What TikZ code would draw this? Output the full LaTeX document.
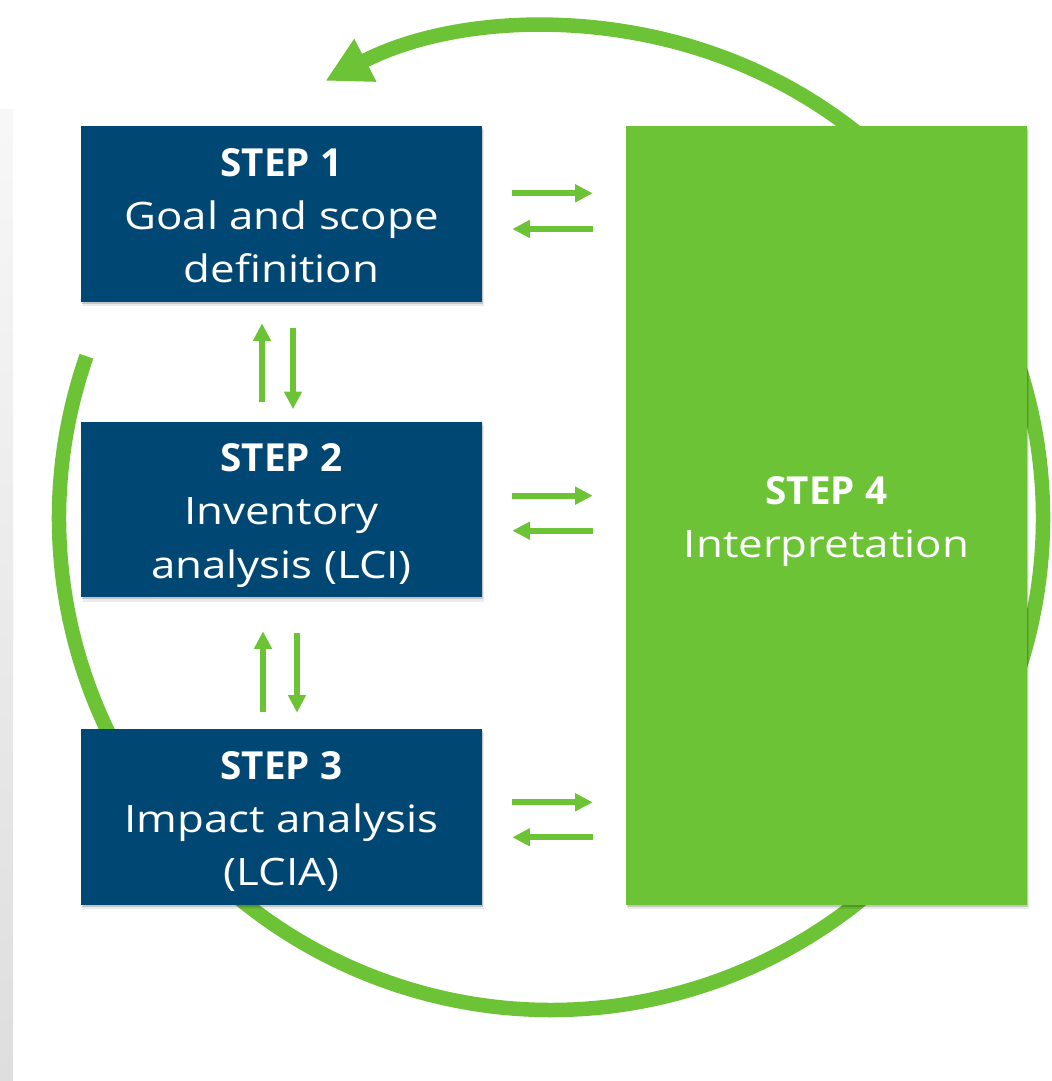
\documentclass[tikz,border=0pt]{standalone}
\usepackage{fontspec}
\setmainfont{Open Sans}
\newfontfamily\bodyfont{Open Sans}[FakeStretch=1.16]
\newfontfamily\headfont{Open Sans}
\usetikzlibrary{arrows.meta,calc,shadows}

\definecolor{lcanavy}{RGB}{0,72,115}
\definecolor{lcagreen}{RGB}{108,195,53}

% first line of a box: bold heading with a fixed strut above the baseline
\newcommand\stephead[1]{{\headfont\bfseries\fontsize{22}{30.3}\selectfont\rule{0pt}{23.8pt}#1}}
% fixed strut below the last baseline
\newcommand\lcatail{\rule[-6.2pt]{0pt}{6.2pt}}

\begin{document}
\begin{tikzpicture}[x=0.02cm,y=0.02cm,
  stagebox/.style={fill=#1, text=white, inner sep=0pt, align=center,
    minimum width=8.02cm, minimum height=3.52cm,
    font=\bodyfont\fontsize{21.5}{30.3}\selectfont,
    drop shadow={shadow xshift=0.4pt, shadow yshift=-1pt, opacity=.16, fill=black},
    drop shadow={shadow xshift=0.9pt, shadow yshift=-2.4pt, opacity=.08, fill=black}},
  ring/.style={draw=lcagreen, line width=0.29cm,
    -{Triangle[length=0.9cm,width=0.9cm]}},
  flow/.style={draw=lcagreen, line width=0.115cm,
    -{Triangle[length=0.35cm,width=0.34cm]}}]

\useasboundingbox (0,0) rectangle (1051,1081);

% soft grey strip along the left edge
\shade[top color=black!3, bottom color=black!13] (0,0) rectangle (13,971);

% the iterative cycle behind the boxes
\coordinate (hub) at (551,563);
\draw[ring] (hub) ++(160.8:9.84cm) arc[start angle=160.8, end angle=477.3, radius=9.84cm];

% the four stages
\node[stagebox=lcanavy] (b1) at (281.5,867)
  {\stephead{STEP 1}\\Goal and scope\\definition\lcatail};
\node[stagebox=lcanavy] (b2) at (281.5,571.5)
  {\stephead{STEP 2}\\Inventory\\analysis (LCI)\lcatail};
\node[stagebox=lcanavy] (b3) at (281.5,264)
  {\stephead{STEP 3}\\Impact analysis\\(LCIA)\lcatail};
\node[stagebox=lcagreen, minimum height=15.58cm] (b4) at (826.5,565.5)
  {\stephead{STEP 4}\\Interpretation\lcatail};

% exchanges with the interpretation stage
\draw[flow, shorten <=0.6cm, shorten >=0.66cm]
  ($(b1.east)+(0,20.7)$) -- ($(b1.east -| b4.west)+(0,20.7)$);
\draw[flow, shorten <=0.66cm, shorten >=0.6cm]
  ($(b1.east -| b4.west)+(0,-15)$) -- ($(b1.east)+(0,-15)$);
\draw[flow, shorten <=0.6cm, shorten >=0.66cm]
  ($(b2.east)+(0,13.8)$) -- ($(b2.east -| b4.west)+(0,13.8)$);
\draw[flow, shorten <=0.66cm, shorten >=0.6cm]
  ($(b2.east -| b4.west)+(0,-21.2)$) -- ($(b2.east)+(0,-21.2)$);
\draw[flow, shorten <=0.6cm, shorten >=0.66cm]
  ($(b3.east)+(0,14.7)$) -- ($(b3.east -| b4.west)+(0,14.7)$);
\draw[flow, shorten <=0.66cm, shorten >=0.6cm]
  ($(b3.east -| b4.west)+(0,-20.3)$) -- ($(b3.east)+(0,-20.3)$);

% exchanges between consecutive stages
\draw[flow, shorten <=0.38cm, shorten >=0.42cm]
  ($(b2.north)+(-19.5,0)$) -- ($(b1.south)+(-19.5,0)$);
\draw[flow, shorten <=0.52cm, shorten >=0.24cm]
  ($(b1.south)+(11.5,0)$) -- ($(b2.north)+(11.5,0)$);
\draw[flow, shorten <=0.34cm, shorten >=0.67cm]
  ($(b3.north)+(-18.5,0)$) -- ($(b2.south)+(-18.5,0)$);
\draw[flow, shorten <=0.7cm, shorten >=0.32cm]
  ($(b2.south)+(15.5,0)$) -- ($(b3.north)+(15.5,0)$);

\end{tikzpicture}
\end{document}
